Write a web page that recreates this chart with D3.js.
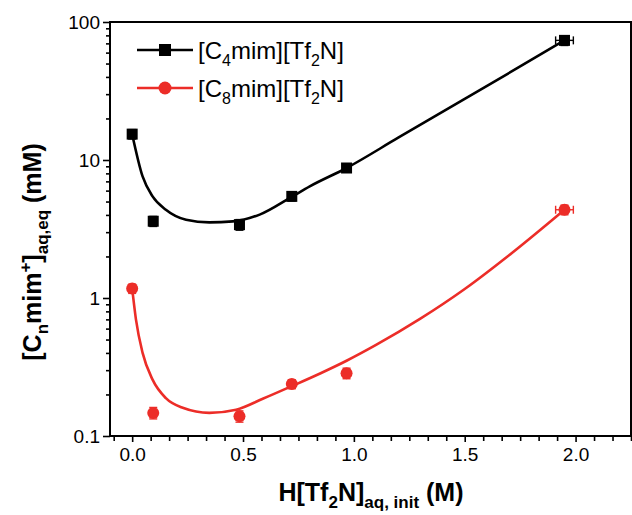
<!DOCTYPE html>
<html><head><meta charset="utf-8">
<script src="https://cdn.jsdelivr.net/npm/d3@7"></script>
<style>body{margin:0;background:#fff} text{font-family:Arial,"Liberation Sans",sans-serif;fill:#000}</style>
</head><body><svg id="c" width="632" height="515"></svg>
<script>
// ---- data ----
const xTicks = [0, 0.5, 1, 1.5, 2];
const xTickLabels = ["0.0", "0.5", "1.0", "1.5", "2.0"];
const yTicks = [0.1, 1, 10, 100];
const yTickLabels = ["0.1", "1", "10", "100"];

const c4X = [0, 0.095, 0.484, 0.72, 0.967, 1.95];
const c4Y = [15.4, 3.6, 3.4, 5.45, 8.75, 73.6];
const c4YErr = [1.2, 0.3, 0.3, 0.4, 0.6, 6];
const c4XErr = [0, 0, 0, 0, 0, 0.04];

const c8X = [0, 0.095, 0.484, 0.72, 0.967, 1.95];
const c8Y = [1.17, 0.147, 0.139, 0.238, 0.285, 4.36];
const c8YErr = [0.09, 0.014, 0.013, 0.018, 0.025, 0.35];
const c8XErr = [0, 0, 0, 0, 0, 0.04];

const c4FitX = [0, 0.047, 0.092, 0.152, 0.243, 0.348, 0.454, 0.575, 0.718, 0.801, 0.967, 1.2, 1.5, 1.75, 1.95];
const c4FitY = [15.4, 7.6, 5.45, 4.36, 3.69, 3.53, 3.59, 4.02, 5.39, 6.44, 8.75, 14.5, 27.7, 47.6, 73.6];

const c8FitX = [0, 0.017, 0.047, 0.092, 0.152, 0.228, 0.348, 0.469, 0.589, 0.718, 0.85, 0.967, 1.1, 1.3, 1.5, 1.7, 1.95];
const c8FitY = [1.17, 0.70, 0.40, 0.256, 0.188, 0.160, 0.147, 0.155, 0.186, 0.229, 0.285, 0.351, 0.457, 0.708, 1.161, 2.04, 4.36];

const RED = "#ec2d28";
// ---- chart ----
const svg = d3.select("#c");
const L = 110, R = 631, T = 22, B = 436;
const x = d3.scaleLinear().domain([-0.1, 2.25]).range([L, R]);
const y = d3.scaleLog().domain([0.1, 100]).range([B, T]);

const xMinor = d3.range(-1, 28).map(i => i / 12).filter(v => v >= -0.1 && v <= 2.25 && Math.abs(v*2 - Math.round(v*2)) > 1e-6);
const gx = svg.append("g").attr("transform", `translate(0,${B})`);
gx.call(d3.axisBottom(x).tickValues(xTicks).tickFormat((d,i)=>xTickLabels[i]).tickSize(6).tickPadding(6));
gx.append("g").call(d3.axisBottom(x).tickValues(xMinor).tickFormat("").tickSize(5));
gx.selectAll("path.domain").remove();

const yMinor = [];
[0.1, 1, 10].forEach(d => { for (let k = 2; k <= 9; k++) yMinor.push(d * k); });
const gy = svg.append("g").attr("transform", `translate(${L},0)`);
gy.call(d3.axisLeft(y).tickValues(yTicks).tickFormat((d,i)=>yTickLabels[i]).tickSize(7).tickPadding(3));
gy.append("g").call(d3.axisLeft(y).tickValues(yMinor).tickFormat("").tickSize(4));
gy.selectAll("path.domain").remove();

svg.selectAll(".tick line").attr("stroke", "#000").attr("stroke-width", 1.6);
svg.selectAll(".tick text").attr("font-size", 19).attr("fill", "#000");

svg.append("rect").attr("x", L).attr("y", T).attr("width", R - L).attr("height", B - T)
  .attr("fill", "none").attr("stroke", "#000").attr("stroke-width", 2);

const line = d3.line().x(d => x(d[0])).y(d => y(d[1])).curve(d3.curveMonotoneX);
svg.append("path").datum(c4FitX.map((v,i)=>[v,c4FitY[i]])).attr("d", line)
  .attr("fill","none").attr("stroke","#000").attr("stroke-width",2.6);
svg.append("path").datum(c8FitX.map((v,i)=>[v,c8FitY[i]])).attr("d", line)
  .attr("fill","none").attr("stroke",RED).attr("stroke-width",2.6);

function errBars(xs, ys, ye, xe, color) {
  const g = svg.append("g").attr("stroke", color).attr("stroke-width", 1.4);
  xs.forEach((v, i) => {
    const cx = x(v), y1 = y(ys[i] - ye[i]), y2 = y(ys[i] + ye[i]);
    g.append("line").attr("x1",cx).attr("x2",cx).attr("y1",y1).attr("y2",y2);
    g.append("line").attr("x1",cx-4).attr("x2",cx+4).attr("y1",y1).attr("y2",y1);
    g.append("line").attr("x1",cx-4).attr("x2",cx+4).attr("y1",y2).attr("y2",y2);
    if (xe[i] > 0) {
      const cy = y(ys[i]), x1 = x(v - xe[i]), x2 = x(v + xe[i]);
      g.append("line").attr("x1",x1).attr("x2",x2).attr("y1",cy).attr("y2",cy);
      g.append("line").attr("x1",x1).attr("x2",x1).attr("y1",cy-4).attr("y2",cy+4);
      g.append("line").attr("x1",x2).attr("x2",x2).attr("y1",cy-4).attr("y2",cy+4);
    }
  });
}
errBars(c4X, c4Y, c4YErr, c4XErr, "#000");
errBars(c8X, c8Y, c8YErr, c8XErr, RED);

const S = 11;
svg.append("g").selectAll("rect").data(c4X.map((v,i)=>[v,c4Y[i]])).join("rect")
  .attr("x", d => x(d[0]) - S/2).attr("y", d => y(d[1]) - S/2).attr("width", S).attr("height", S).attr("fill", "#000");
svg.append("g").selectAll("circle").data(c8X.map((v,i)=>[v,c8Y[i]])).join("circle")
  .attr("cx", d => x(d[0])).attr("cy", d => y(d[1])).attr("r", 6).attr("fill", RED);

function legendText(tx, ty, n) {
  const t = svg.append("text").attr("x", tx).attr("y", ty).attr("font-size", 24);
  t.append("tspan").text("[C");
  t.append("tspan").attr("font-size", 16).attr("dy", 7).text(n);
  t.append("tspan").attr("dy", -7).text("mim][Tf");
  t.append("tspan").attr("font-size", 16).attr("dy", 7).text("2");
  t.append("tspan").attr("dy", -7).text("N]");
}
svg.append("line").attr("x1",137).attr("x2",193).attr("y1",50).attr("y2",50).attr("stroke","#000").attr("stroke-width",2.6);
svg.append("rect").attr("x",165-6).attr("y",44).attr("width",12).attr("height",12).attr("fill","#000");
legendText(198, 59, "4");
svg.append("line").attr("x1",137).attr("x2",193).attr("y1",88).attr("y2",88).attr("stroke",RED).attr("stroke-width",2.6);
svg.append("circle").attr("cx",165).attr("cy",88).attr("r",6.5).attr("fill",RED);
legendText(198, 97, "8");

const xt = svg.append("text").attr("x", 371).attr("y", 501).attr("text-anchor","middle")
  .attr("font-size", 25).attr("font-weight","bold");
xt.append("tspan").text("H[Tf");
xt.append("tspan").attr("font-size",17).attr("dy",7).text("2");
xt.append("tspan").attr("dy",-7).text("N]");
xt.append("tspan").attr("font-size",17).attr("dy",7).text("aq, init");
xt.append("tspan").attr("dy",-7).text(" (M)");

const yt = svg.append("text").attr("transform","translate(41,252) rotate(-90)").attr("text-anchor","middle")
  .attr("font-size", 25).attr("font-weight","bold");
yt.append("tspan").text("[C");
yt.append("tspan").attr("font-size",17).attr("dy",7).text("n");
yt.append("tspan").attr("dy",-7).text("mim");
yt.append("tspan").attr("font-size",17).attr("dy",-10).text("+");
yt.append("tspan").attr("dy",10).text("]");
yt.append("tspan").attr("font-size",17).attr("dy",7).text("aq,eq");
yt.append("tspan").attr("dy",-7).text(" (mM)");
</script></body></html>
